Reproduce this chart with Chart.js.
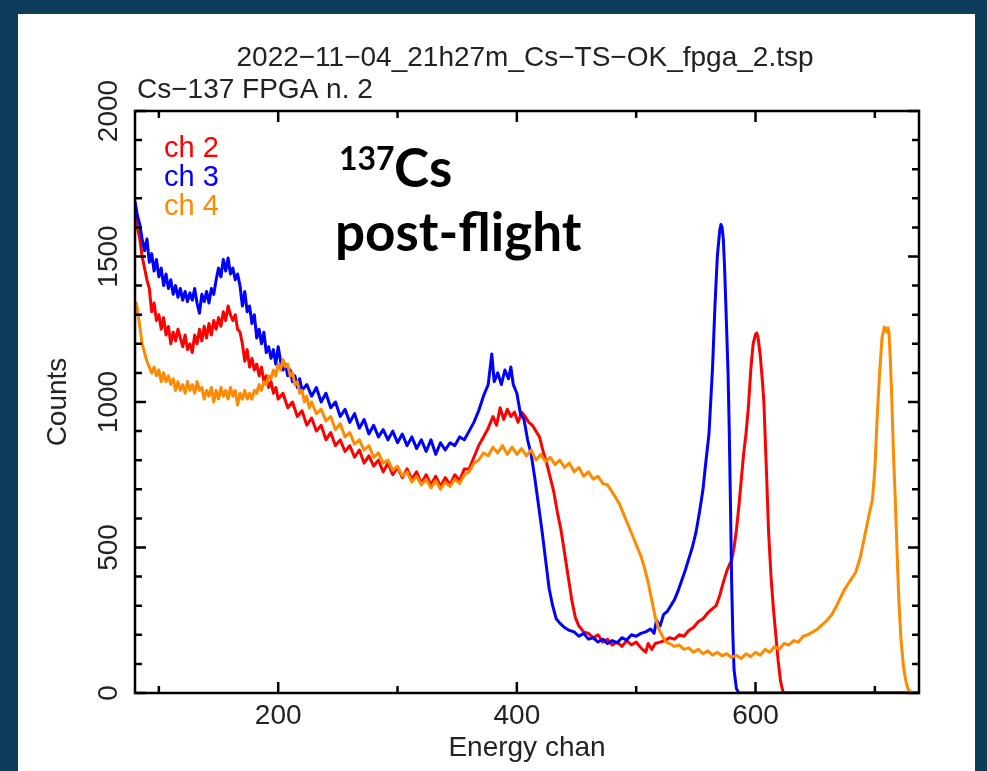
<!DOCTYPE html>
<html>
<head>
<meta charset="utf-8">
<script src="https://cdn.jsdelivr.net/npm/chart.js@4.4.0/dist/chart.umd.min.js"></script>
<style>
  body { margin: 0; background: #0e3d5c; }
  canvas { display: block; }
</style>
</head>
<body>
<canvas id="spettro" width="987" height="771"></canvas>
<script>
// canali / conteggi
const ch2Points = [[80,1640],[82,1600],[84,1560],[86,1500],[88,1460],[90,1420],[92,1390],[94,1310],[96,1340],[98,1280],[100,1300],[102,1250],[104,1290],[106,1230],[108,1260],[110,1200],[112,1240],[114,1210],[116,1250],[118,1220],[120,1190],[122,1230],[124,1180],[126,1200],[128,1170],[130,1230],[132,1200],[134,1250],[136,1210],[138,1260],[140,1220],[142,1270],[144,1230],[146,1280],[148,1250],[150,1290],[152,1260],[154,1310],[156,1280],[158,1330],[160,1300],[162,1280],[164,1300],[166,1250],[168,1240],[170,1200],[172,1140],[174,1180],[176,1120],[178,1150],[180,1110],[182,1130],[184,1090],[186,1120],[188,1070],[190,1090],[192,1050],[194,1070],[196,1030],[198,1050],[200,1010],[204,1030],[208,980],[212,1000],[216,950],[220,970],[224,920],[228,945],[232,900],[236,920],[240,870],[244,895],[248,850],[252,870],[256,830],[260,850],[264,810],[268,835],[272,790],[276,815],[280,780],[284,800],[288,760],[292,790],[296,750],[300,775],[304,740],[308,770],[312,735],[316,760],[320,720],[324,750],[328,715],[332,745],[336,710],[340,740],[344,715],[348,750],[352,730],[356,770],[360,770],[364,810],[368,850],[372,880],[376,910],[380,950],[383,920],[386,980],[389,940],[392,975],[395,950],[398,965],[401,930],[404,965],[407,950],[410,930],[413,920],[416,900],[419,880],[422,830],[425,790],[428,740],[431,690],[434,620],[437,560],[440,480],[443,400],[446,320],[449,260],[452,230],[456,210],[460,205],[464,190],[468,200],[472,175],[476,185],[480,165],[484,175],[488,160],[492,180],[496,165],[500,175],[504,155],[508,140],[510,170],[513,150],[516,170],[520,175],[524,180],[528,190],[532,185],[536,200],[540,195],[544,215],[548,225],[552,245],[556,255],[560,275],[564,290],[567,300],[570,335],[573,380],[576,420],[578,440],[580,455],[582,500],[584,560],[586,640],[588,730],[590,820],[592,890],[594,980],[596,1110],[598,1200],[600,1232],[601,1237],[602,1225],[604,1160],[606,1060],[607,1000],[609,780],[611,550],[613,400],[615,290],[617,200],[619,110],[621,40],[623,5],[625,0],[737,0]];

const ch3Points = [[80,1690],[82,1640],[84,1610],[86,1560],[88,1520],[90,1560],[92,1480],[94,1510],[96,1450],[98,1490],[100,1430],[102,1460],[104,1400],[106,1440],[108,1390],[110,1420],[112,1370],[114,1400],[116,1360],[118,1390],[120,1350],[122,1380],[124,1345],[126,1375],[128,1350],[130,1390],[132,1340],[134,1305],[136,1370],[138,1345],[140,1380],[142,1340],[144,1390],[146,1370],[148,1420],[150,1460],[152,1430],[154,1490],[156,1450],[158,1495],[160,1440],[162,1460],[164,1420],[166,1440],[168,1400],[170,1330],[172,1380],[174,1310],[176,1330],[178,1270],[180,1300],[182,1220],[184,1250],[186,1200],[188,1240],[190,1170],[192,1190],[194,1150],[196,1180],[198,1130],[200,1190],[202,1140],[204,1110],[206,1130],[208,1090],[210,1110],[212,1070],[214,1090],[216,1050],[218,1080],[220,1040],[224,1060],[228,1020],[232,1050],[236,1000],[240,1030],[244,980],[248,1000],[252,950],[256,975],[260,930],[264,960],[268,910],[272,940],[276,890],[280,920],[284,880],[288,905],[292,870],[296,900],[300,860],[304,890],[308,850],[312,880],[316,840],[320,870],[324,830],[328,870],[332,820],[336,860],[340,835],[344,860],[348,850],[352,880],[356,870],[360,900],[364,930],[368,970],[372,1020],[376,1060],[379,1165],[381,1070],[384,1100],[387,1060],[390,1110],[393,1080],[395,1120],[397,1060],[400,1030],[403,960],[406,940],[409,870],[412,820],[415,740],[418,650],[421,560],[424,460],[427,360],[430,300],[433,255],[436,240],[440,225],[444,215],[448,210],[452,195],[456,205],[460,185],[464,190],[468,175],[472,185],[476,170],[480,180],[484,172],[488,190],[492,182],[496,200],[500,195],[504,205],[508,210],[512,220],[515,205],[517,250],[520,230],[523,270],[526,280],[529,300],[532,320],[535,350],[538,385],[541,420],[544,460],[547,500],[550,550],[553,620],[556,700],[558,780],[561,890],[564,1120],[566,1330],[568,1500],[570,1590],[571,1610],[572,1600],[573,1560],[574,1470],[575,1350],[577,1100],[578,900],[579,650],[580,380],[581,200],[582,80],[584,15],[586,0],[737,0]];

const ch4Points = [[80,1300],[81,1340],[82,1320],[84,1260],[86,1200],[88,1170],[90,1140],[92,1120],[94,1100],[96,1120],[98,1090],[100,1110],[102,1070],[104,1100],[106,1070],[108,1090],[110,1060],[112,1080],[114,1040],[116,1070],[118,1040],[120,1060],[122,1030],[124,1070],[126,1040],[128,1060],[130,1030],[132,1070],[134,1040],[136,1050],[138,1010],[140,1040],[142,1020],[144,1050],[146,1000],[148,1040],[150,1010],[152,1050],[154,1020],[156,1040],[158,1010],[160,1050],[162,1020],[164,1040],[166,990],[168,1030],[170,1010],[172,1040],[174,1010],[176,1030],[178,1010],[180,1040],[182,1030],[184,1060],[186,1040],[188,1070],[190,1060],[192,1090],[194,1080],[196,1110],[198,1090],[200,1130],[202,1110],[204,1145],[206,1120],[208,1130],[210,1090],[212,1100],[214,1060],[216,1070],[218,1030],[220,1040],[222,1000],[224,1020],[226,980],[228,1000],[232,960],[236,975],[240,935],[244,950],[248,905],[252,925],[256,880],[260,895],[264,855],[268,870],[272,835],[276,850],[280,810],[284,825],[288,790],[292,800],[296,765],[300,780],[304,745],[308,760],[312,725],[316,745],[320,715],[324,735],[328,705],[332,730],[336,700],[340,725],[344,710],[348,735],[352,720],[356,750],[360,760],[364,790],[368,800],[372,825],[376,815],[380,845],[384,825],[388,850],[392,820],[396,845],[400,820],[404,840],[408,815],[412,835],[416,800],[420,820],[424,795],[428,810],[432,785],[436,800],[440,775],[444,790],[448,760],[452,775],[456,745],[460,760],[464,735],[468,745],[472,720],[476,715],[480,690],[483,670],[486,650],[489,620],[492,590],[495,560],[498,530],[501,500],[504,470],[507,430],[510,380],[513,320],[516,260],[519,220],[522,195],[525,175],[528,170],[532,160],[536,165],[540,150],[544,155],[548,140],[552,150],[556,135],[560,145],[564,130],[568,140],[572,128],[576,135],[580,122],[584,130],[588,118],[592,135],[596,125],[600,140],[604,130],[608,150],[612,140],[616,160],[620,150],[624,170],[628,165],[632,180],[636,175],[640,195],[644,200],[648,210],[652,220],[656,235],[660,250],[664,270],[668,300],[672,335],[676,365],[680,390],[684,415],[688,470],[692,550],[695,610],[698,665],[700,770],[702,950],[704,1100],[706,1220],[708,1258],[709,1250],[710,1240],[711,1255],[712,1230],[713,1140],[714,1040],[715,900],[716,780],[717,680],[718,560],[719,440],[720,330],[721,250],[722,180],[724,90],[726,40],[728,12],[730,3],[732,0],[737,0]];

const canali = ['ch 2', 'ch 3', 'ch 4'];
const colori = ['#ff0000', '#0000ff', '#ff8a00'];
const yEtichette = [0, 500, 1000, 1500, 2000];
const xEtichette = [200, 400, 600];

const FONT = '"Liberation Sans", Arial, sans-serif';

function punti(lista) {
  return lista.map(p => ({ x: p[0], y: p[1] }));
}

// sfondo, cornice, tacche interne e testi
const cornice = {
  id: 'cornice',
  beforeDraw(chart) {
    const ctx = chart.ctx;
    ctx.save();
    ctx.fillStyle = '#0e3d5c';
    ctx.fillRect(0, 0, chart.width, chart.height);
    ctx.fillStyle = '#ffffff';
    ctx.fillRect(18, 14, 957, 757);
    ctx.restore();
  },
  afterDraw(chart) {
    const { ctx, chartArea: a, scales: { x, y } } = chart;
    ctx.save();
    ctx.strokeStyle = '#000';
    ctx.lineWidth = 2.5;
    ctx.strokeRect(a.left, a.top, a.right - a.left, a.bottom - a.top);

    ctx.beginPath();
    x.ticks.forEach(t => {
      const px = x.getPixelForValue(t.value);
      const len = t.value % 200 === 0 ? 11 : 7;
      ctx.moveTo(px, a.bottom); ctx.lineTo(px, a.bottom - len);
      ctx.moveTo(px, a.top); ctx.lineTo(px, a.top + len);
    });
    y.ticks.forEach(t => {
      const py = y.getPixelForValue(t.value);
      const len = t.value % 500 === 0 ? 11 : 7;
      ctx.moveTo(a.left, py); ctx.lineTo(a.left + len, py);
      ctx.moveTo(a.right, py); ctx.lineTo(a.right - len, py);
    });
    ctx.stroke();

    // etichette asse y ruotate
    ctx.fillStyle = '#222';
    ctx.font = '28px ' + FONT;
    ctx.textAlign = 'center';
    ctx.textBaseline = 'alphabetic';
    yEtichette.forEach(v => {
      ctx.save();
      ctx.translate(117, y.getPixelForValue(v));
      ctx.rotate(-Math.PI / 2);
      ctx.fillText(String(v), 0, 0);
      ctx.restore();
    });

    // titolo e sottotitolo
    ctx.fillText('2022\u221211\u221204_21h27m_Cs\u2212TS\u2212OK_fpga_2.tsp', 525, 66);
    ctx.textAlign = 'left';
    ctx.fillText('Cs\u2212137 FPGA n. 2', 137, 98);

    // legenda
    ctx.font = '29px ' + FONT;
    canali.forEach((nome, i) => {
      ctx.fillStyle = colori[i];
      ctx.fillText(nome, 164, 157 + i * 29);
    });

    // annotazione
    ctx.fillStyle = '#000';
    ctx.font = 'bold 32px Lato, sans-serif';
    ctx.fillText('137', 339, 170);
    ctx.font = 'bold 53px Lato, sans-serif';
    ctx.fillText('Cs', 394, 187);
    ctx.fillText('post-flight', 335, 251);
    ctx.restore();
  }
};

const serie = [ch2Points, ch3Points, ch4Points];

new Chart(document.getElementById('spettro'), {
  type: 'line',
  data: {
    datasets: serie.map((s, i) => ({
      label: canali[i],
      data: punti(s),
      borderColor: colori[i],
      borderWidth: 3,
      borderJoinStyle: 'round',
      pointRadius: 0,
      tension: 0,
      fill: false,
      order: 3 - i // ch 4 sopra
    }))
  },
  options: {
    responsive: false,
    animation: false,
    layout: { padding: { top: 111, right: 68, left: 0, bottom: 0 } },
    plugins: { legend: { display: false }, tooltip: { enabled: false } },
    scales: {
      x: {
        type: 'linear',
        min: 80,
        max: 737,
        afterFit(s) { s.height = 78; },
        grid: { display: false, drawTicks: false },
        border: { display: false },
        ticks: {
          stepSize: 100,
          includeBounds: false,
          autoSkip: false,
          maxRotation: 0,
          padding: 6,
          color: '#222',
          font: { family: FONT, size: 28 },
          callback: v => xEtichette.includes(v) ? String(v) : ''
        },
        title: {
          display: true,
          text: 'Energy chan',
          color: '#222',
          font: { family: FONT, size: 28 },
          padding: { top: 0, bottom: 6 }
        }
      },
      y: {
        min: 0,
        max: 2000,
        afterFit(s) { s.width = 135; },
        grid: { display: false, drawTicks: false },
        border: { display: false },
        ticks: { display: false, stepSize: 100 },
        title: {
          display: true,
          text: 'Counts',
          color: '#222',
          font: { family: FONT, size: 28 },
          padding: { top: 41, bottom: 0 }
        }
      }
    }
  },
  plugins: [cornice]
});
</script>
</body>
</html>
